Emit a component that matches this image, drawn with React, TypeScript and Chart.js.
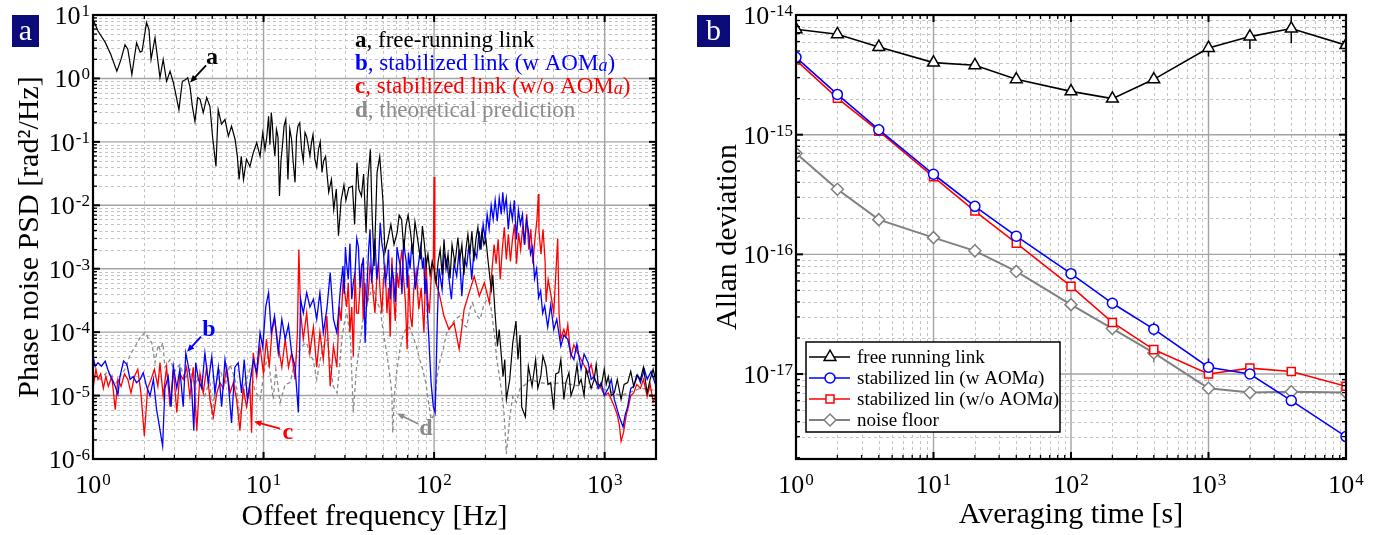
import React, { useEffect, useRef } from 'react';
import { Chart, registerables } from 'chart.js';

Chart.register(...registerables);

const SERIF = '"Liberation Serif", "Times New Roman", Times, serif';

// ---------------- Panel a: phase-noise PSD  [offset frequency Hz, PSD rad^2/Hz] ----------------
const psdFreeRunning: [number, number][] = [
  [1.00,8.5],[1.07,5.6],[1.18,3.7],[1.27,2.4],[1.38,1.3],[1.46,2.0],[1.54,3.4],[1.60,2.9],[1.69,1.15],[1.80,3.65],
  [1.89,2.6],[1.94,2.7],[2.06,7.6],[2.13,5.9],[2.19,2.0],[2.31,4.4],[2.47,1.03],[2.58,2.0],[2.70,0.9],[2.83,1.3],
  [2.96,0.86],[3.06,0.56],[3.19,0.32],[3.34,0.9],[3.50,0.96],[3.59,1.03],[3.71,0.72],[3.82,0.37],[3.96,0.21],[4.11,0.5],
  [4.24,0.47],[4.43,0.29],[4.64,0.5],[4.85,0.36],[5.03,0.117],[5.26,0.041],[5.42,0.32],[5.67,0.19],[5.94,0.225],[6.22,0.123],
  [6.49,0.177],[6.81,0.109],[7.02,0.059],[7.19,0.0255],[7.40,0.059],[7.63,0.0255],[7.94,0.053],[8.32,0.041],[8.70,0.067],[9.12,0.097],
  [9.54,0.059],[9.89,0.139],[10.2,0.076],[10.45,0.12],[10.7,0.254],[10.9,0.09],[11.1,0.29],[11.25,0.2],[11.4,0.109],[11.65,0.06],
  [11.9,0.157],[12.15,0.12],[12.4,0.014],[12.65,0.05],[12.9,0.086],[13.2,0.18],[13.5,0.225],[13.7,0.08],[13.9,0.0255],[14.25,0.16],
  [14.6,0.109],[14.9,0.05],[15.3,0.023],[15.6,0.12],[15.9,0.177],[16.3,0.2],[16.7,0.076],[17.1,0.05],[17.5,0.14],[17.9,0.12],
  [18.3,0.086],[18.7,0.06],[19.1,0.097],[19.5,0.13],[20.0,0.053],[20.5,0.04],[21.0,0.076],[21.5,0.1],[22.0,0.033],[22.5,0.05],
  [23.1,0.059],[23.6,0.03],[24.1,0.016],[25.0,0.0255],[25.8,0.0086],[26.7,0.018],[27.5,0.0033],[28.5,0.012],[29.6,0.021],[30.4,0.012],
  [31.6,0.019],[33.2,0.02],[34.2,0.005],[35.3,0.047],[36.2,0.018],[37.5,0.014],[38.6,0.031],[39.9,0.0037],[40.9,0.0255],[42.3,0.076],
  [43.2,0.0086],[44.5,0.0011],[46.3,0.033],[48.0,0.059],[50.1,0.012],[51.5,0.0018],[53.6,0.0029],[55.8,0.005],[58.2,0.0024],[60.7,0.0037],
  [62.4,0.007],[64.5,0.006],[66.4,0.002],[68.3,0.0047],[70.4,0.007],[72.8,0.0037],[75.0,0.0017],[77.2,0.0055],[80.1,0.0029],[83.1,0.0014],
  [85.4,0.0047],[87.8,0.0024],[89.9,0.0011],[92.0,0.0017],[94.8,8e-4],[97.4,1.3e-3],[99.9,1e-3],[102.8,6e-4],[105.6,1.3e-3],[108.5,2e-3],
  [111.5,8e-4],[114.3,2.9e-3],[117.5,1e-3],[120.7,1.7e-3],[124.0,7e-4],[127.4,2.4e-3],[132.6,1.2e-3],[137.9,3.1e-3],[141.6,1.4e-3],[145.5,2.4e-3],
  [149.5,8e-4],[153.6,2e-3],[157.8,3.5e-3],[162.1,1.7e-3],[166.6,3.9e-3],[171.1,1.3e-3],[175.8,2.9e-3],[180.6,4.5e-3],[185.6,2e-3],[190.7,3.9e-3],
  [195.9,2.4e-3],[201.3,2.9e-3],[206.8,1.4e-3],[212.5,7e-4],[217.1,4.7e-4],[220.8,8e-4],[226.9,2.3e-4],[235.2,6e-5],[240.8,1.1e-4],[253.6,2e-5],
  [259.6,3.7e-5],[265.3,8.7e-6],[277.7,1.8e-5],[289.2,6.8e-5],[302.0,1.5e-4],[310.3,3.7e-5],[319.0,9e-5],[326.3,6.6e-6],[342.8,4.6e-6],[356.9,2.9e-5],
  [375.3,1.4e-5],[393.8,3.7e-5],[405.6,1.3e-5],[422.1,2e-5],[434.5,4.2e-5],[452.6,2.9e-5],[465.2,1.5e-5],[482.4,1.6e-5],[502.4,6e-6],[516.4,2.2e-5],
  [537.8,2.3e-5],[553.4,3.7e-5],[576.4,8.7e-6],[592.6,1.6e-5],[617.4,2.3e-5],[634.8,1e-5],[661.2,1.4e-5],[688.6,3.1e-5],[707.7,1.5e-5],[727.4,1.8e-5],
  [757.5,1e-5],[778.5,2.6e-5],[800.2,2e-5],[833.3,1.3e-5],[867.8,1.8e-5],[892.0,3.1e-5],[916.8,1.5e-5],[954.8,1.4e-5],[994.3,2.6e-5],[1022,1.5e-5],
  [1050,2e-5],[1094,1e-5],[1139,1.1e-5],[1186,1.8e-5],[1248,8.7e-6],[1300,1.5e-5],[1365,1.6e-5],[1422,2.4e-5],[1480,1.4e-5],[1541,2.1e-5],
  [1621,1.8e-5],[1688,2.8e-5],[1775,1.1e-5],[1848,1.8e-5],[1924,2.6e-5],[2003,1.6e-5],
];

const psdStabilizedWithAom: [number, number][] = [
  [1.00,4.2e-5],[1.03,2.9e-5],[1.07,3.3e-5],[1.12,2.9e-5],[1.18,3.5e-5],[1.22,2.6e-5],[1.29,1.8e-5],[1.35,1.4e-5],[1.40,1.04e-5],[1.44,2.0e-5],
  [1.51,3.5e-5],[1.58,3.1e-5],[1.65,1.8e-5],[1.72,2.0e-5],[1.80,1.6e-5],[1.89,1.8e-5],[1.97,2.3e-5],[2.06,1.4e-5],[2.16,9.9e-6],[2.26,1.8e-5],
  [2.36,6.0e-6],[2.45,3.3e-6],[2.56,1.6e-6],[2.64,1.3e-5],[2.76,2.0e-5],[2.87,6.7e-6],[2.96,2.9e-5],[3.10,1.3e-5],[3.23,2.6e-5],[3.38,6.7e-6],
  [3.50,4.7e-5],[3.65,2.6e-5],[3.79,1.3e-5],[3.90,2.8e-6],[4.00,3.3e-5],[4.15,1.8e-5],[4.34,1.3e-5],[4.53,4.7e-5],[4.74,1.6e-5],[4.97,4.1e-5],
  [5.19,1.1e-5],[5.43,2.8e-5],[5.68,6.7e-6],[5.94,3.7e-5],[6.21,1.6e-5],[6.49,3.7e-6],[6.79,2.8e-5],[7.10,3.3e-5],[7.43,1.1e-5],[7.70,3.7e-5],
  [8.04,8.7e-6],[8.33,1.6e-5],[8.71,3.7e-5],[9.11,2.3e-5],[9.54,9.8e-5],[9.89,5.8e-5],[10.3,2.5e-4],[10.7,4.2e-4],[11.1,9.8e-5],[11.6,1.8e-4],
  [12.2,4.7e-5],[12.8,1.6e-4],[13.4,7.7e-5],[14.0,1.3e-4],[14.6,4.7e-5],[15.3,2.8e-5],[16.0,5.4e-6],[16.5,3.3e-4],[17.1,2.0e-4],[17.9,4.2e-4],
  [18.7,2.5e-4],[19.6,3.3e-4],[20.5,1.6e-4],[21.4,4.2e-4],[22.4,9.8e-5],[23.5,2.3e-4],[24.6,8.7e-4],[25.7,1.6e-4],[26.9,9.8e-5],[28.2,4.7e-4],
  [29.2,1.1e-3],[29.7,4e-4],[30.2,2.2e-3],[30.7,1.2e-3],[31.4,6.8e-4],[32.1,2.5e-3],[32.9,3.3e-4],[33.6,6e-4],[34.4,8.7e-4],[35.2,3e-3],
  [36.0,2.2e-3],[36.8,5e-4],[37.7,1.1e-3],[38.5,1.5e-3],[39.4,6.8e-5],[40.6,6.8e-4],[41.3,2e-3],[42.1,4.2e-3],[43.0,6e-4],[44.0,1.3e-3],
  [45.0,3e-3],[46.1,6.8e-4],[47.2,1.2e-3],[48.3,5.3e-3],[49.4,2.5e-3],[50.5,1.8e-3],[51.7,6e-4],[52.9,8.7e-4],[54.0,2e-3],[55.3,3.3e-4],
  [56.6,1e-3],[57.9,6.8e-4],[59.2,3e-4],[60.6,2.2e-3],[62.0,1.5e-3],[63.4,1.1e-3],[64.8,4e-4],[66.3,2.9e-3],[67.4,1.8e-3],[68.6,1.3e-3],
  [69.6,5e-4],[70.7,1.8e-3],[72.3,1.0e-3],[74.0,2.5e-3],[75.4,1.7e-3],[77.6,4.7e-4],[79.5,8e-4],[81.6,1.4e-3],[83.5,2.2e-3],[85.6,1.0e-3],
  [87.0,1.5e-3],[88.3,4.0e-4],[90.0,7e-4],[91.7,1.8e-4],[96.0,1.6e-5],
  [98.9,6.7e-6],[101.4,5.4e-6],[104.6,1.8e-4],[106.9,1.0e-3],[111.4,4.7e-4],[114.5,1.7e-3],[118.6,1.3e-3],[122.4,6.8e-4],[126.3,3.3e-4],[130.8,1.2e-3],
  [135.7,7.6e-4],[140.2,2.0e-3],[145.4,3.7e-4],[150.4,1.4e-3],[155.3,1.1e-3],[160.0,2.4e-3],[166.2,6.8e-4],[171.4,2.0e-3],[177.7,1.5e-3],[183.6,3.9e-3],
  [188.5,2.0e-3],[193.9,5.0e-3],[199.2,2.9e-3],[204.6,7.2e-3],[210.2,4.2e-3],[216.1,1.0e-2],[222.0,6.0e-3],[228.1,1.2e-2],[234.5,5.6e-3],[240.9,1.3e-2],
  [247.6,7.2e-3],[252.7,1.6e-2],[257.9,8.4e-3],[265.0,1.3e-2],[272.3,4.2e-3],[279.9,1.0e-2],[287.6,6.0e-3],[295.5,1.2e-2],[303.7,2.9e-3],[312.1,8.4e-3],
  [320.7,5.0e-3],[329.6,7.2e-3],[338.7,2.4e-3],[348.1,6.0e-3],[357.7,3.9e-3],[367.6,1.7e-3],[377.8,2.2e-3],[388.2,7.0e-4],[399.0,1.0e-3],[410.0,3.5e-4],
  [421.3,4.5e-4],[433.0,2.0e-4],[445.0,2.6e-4],[463.5,1.2e-4],[482.8,2.7e-4],[502.8,1.1e-4],[523.8,1.6e-4],[553.3,6.0e-5],[576.4,9.0e-5],[608.1,7.7e-5],
  [633.4,4.5e-5],[659.7,3.7e-5],[687.2,6.5e-5],[727.4,2.6e-5],[757.6,4.5e-5],[800.2,3.3e-5],[833.3,1.8e-5],[867.8,2.0e-5],[916.8,1.3e-5],[954.8,1.6e-5],
  [994.3,1.0e-5],[1050,1.3e-5],[1094,1.8e-5],[1139,8.7e-6],[1186,6.0e-6],[1220,4.6e-6],[1282,3.2e-6],[1320,5.0e-6],[1365,6.7e-6],[1422,1.3e-5],
  [1480,1.4e-5],[1561,2.1e-5],[1621,1.6e-5],[1709,2.6e-5],[1775,1.8e-5],[1872,2.4e-5],[2003,1.4e-5],
];

const psdStabilizedWithoutAom: [number, number][] = [
  [1.00,1.3e-5],[1.04,2.6e-5],[1.07,1.8e-5],[1.11,2.2e-5],[1.15,1.3e-5],[1.19,2.0e-5],[1.23,1.4e-5],[1.29,2.0e-5],[1.35,6.0e-6],[1.40,1.8e-5],
  [1.46,1.4e-5],[1.53,2.2e-5],[1.60,1.8e-5],[1.67,1.1e-5],[1.75,2.0e-5],[1.83,2.6e-5],[1.91,1.1e-5],[2.00,2.3e-6],[2.09,1.3e-5],[2.19,1.8e-5],
  [2.29,2.6e-5],[2.40,1.4e-5],[2.47,3.3e-5],[2.58,9.7e-6],[2.70,2.8e-5],[2.83,6.7e-6],[2.96,2.6e-5],[3.10,5.4e-6],[3.23,2.2e-5],[3.38,1.8e-5],
  [3.54,2.8e-5],[3.70,9.7e-6],[3.87,2.8e-5],[4.06,2.8e-6],[4.24,2.2e-5],[4.43,1.1e-5],[4.64,2.8e-5],[4.85,8.7e-6],[5.08,4.6e-6],[5.32,1.1e-5],
  [5.55,1.6e-5],[5.81,1.3e-5],[6.08,2.8e-5],[6.36,1.1e-5],[6.65,1.6e-5],[6.95,8.7e-6],[7.27,2.8e-6],[7.60,1.3e-5],[7.95,6.7e-6],[8.32,1.4e-5],
  [8.51,2.6e-6],[8.70,4.7e-5],[9.11,2.0e-5],[9.54,6.0e-5],[9.97,2.3e-5],[10.4,7.8e-5],[10.8,2.8e-5],[11.2,1.0e-4],[11.6,1.6e-4],[12.2,6.0e-5],
  [12.8,2.8e-5],[13.4,7.8e-5],[14.0,2.8e-5],[14.6,4.7e-5],[15.3,1.8e-5],[15.8,1.0e-4],[16.1,2.0e-3],[16.5,2.0e-4],[17.1,7.8e-5],[17.9,2.0e-4],
  [18.7,4.7e-5],[19.6,1.2e-4],[20.5,2.8e-5],[21.4,1.0e-4],[22.4,3.7e-5],[23.5,1.8e-4],[24.6,1.4e-5],[25.7,6.0e-5],[26.9,2.8e-5],[27.8,2.5e-4],
  [28.5,1.5e-4],[29.3,6.8e-4],[30.0,4e-4],[30.7,2.5e-4],[31.4,6e-4],[32.1,1.0e-4],[32.9,2.5e-4],[33.6,4.1e-5],[34.4,9e-4],[35.1,2.0e-4],
  [36.0,2e-4],[36.8,5.3e-4],[37.6,1.2e-3],[38.4,1.6e-4],[39.3,6e-4],[40.2,2.5e-4],[41.1,4e-4],[42.1,1.1e-3],[43.0,8e-4],[44.0,3.7e-4],
  [45.0,2e-4],[46.1,6.8e-4],[47.2,1.3e-3],[48.3,4.2e-4],[49.4,2e-4],[50.5,6.8e-4],[51.7,1e-3],[52.9,2.0e-4],[54.1,5e-4],[55.3,8.5e-5],
  [56.6,1.5e-3],[57.9,3.7e-4],[59.2,1.5e-4],[60.6,8.7e-4],[62.0,5e-4],[63.4,1.25e-3],[64.8,2e-3],[66.3,6.8e-4],[67.9,3e-4],[69.5,5.4e-5],
  [71.0,8e-4],[72.6,1.8e-4],[74.3,1.2e-4],[76.0,4.7e-4],[78.5,9e-4],[81.3,2.3e-4],[84.0,5e-4],[87.2,9.8e-5],[89.5,1.5e-3],[91.7,3.3e-4],
  [93.8,2e-4],[96.0,6.8e-4],[99.0,1.55e-3],[100.0,2.8e-2],[101.0,6.8e-4],[106.9,4.2e-4],
  [114.2,1.8e-4],[122.2,1.1e-4],[130.9,1.4e-4],[140.2,5.4e-5],[150.0,2.3e-4],[160.6,4.2e-4],[171.9,7.6e-4],[184.1,3.7e-4],[197.1,6.0e-4],[211.0,2.9e-4],
  [218.8,1.0e-3],[224.8,2.4e-3],[231.0,1.2e-3],[237.5,2.9e-3],[244.2,6.8e-4],[251.0,2.0e-3],[258.0,4.5e-3],[265.2,1.4e-3],[272.6,3.5e-3],[280.2,1.3e-3],
  [288.0,2.9e-3],[296.1,5.0e-3],[304.3,1.2e-3],[312.8,3.7e-3],[321.6,2.0e-3],[330.5,4.5e-3],[339.8,2.4e-3],[349.2,7.2e-3],[359.0,2.0e-3],[369.0,4.2e-3],
  [379.3,1.2e-3],[389.9,2.9e-3],[400.8,6.0e-3],[409.0,1.5e-2],[412.0,3.9e-3],[423.5,1.7e-3],[435.3,4.2e-3],[447.5,1.3e-3],[453.6,3.0e-4],[466.4,6.8e-4],
  [485.3,3.7e-4],[502.8,2.0e-4],[530.6,3.0e-3],[540.0,2.0e-4],[553.3,7.8e-5],[576.4,1.1e-4],[592.6,8.5e-5],[608.1,1.3e-4],[633.4,4.1e-5],[659.7,6.3e-5],
  [694.6,4.7e-5],[727.4,3.7e-5],[767.9,2.8e-5],[800.2,2.3e-5],[833.3,3.1e-5],[867.8,1.8e-5],[916.8,1.5e-5],[954.8,1.3e-5],[1000,1.0e-5],[1050,1.1e-5],
  [1094,8.7e-6],[1139,6.7e-6],[1186,5.0e-6],[1220,3.4e-6],[1248,1.9e-6],[1290,2.6e-6],[1340,5.0e-6],[1365,6.0e-6],[1422,1.0e-5],[1480,1.1e-5],
  [1541,1.5e-5],[1621,1.3e-5],[1688,1.8e-5],[1775,9.7e-6],[1848,1.5e-5],[1924,8.0e-6],[2003,1.0e-5],
];

const psdTheoretical: [number, number][] = [
  [1.00,2.1e-5],[1.10,1.8e-5],[1.22,2.4e-5],[1.35,1.5e-5],[1.44,2.0e-5],[1.54,2.6e-5],[1.65,4.4e-5],[1.76,5.8e-5],[1.89,8.2e-5],[2.02,1.0e-4],
  [2.10,8.2e-5],[2.21,6.8e-5],[2.31,3.3e-5],[2.41,6.3e-5],[2.47,5.3e-5],[2.57,6.8e-5],[2.64,2.8e-5],[2.83,3.7e-5],[3.02,2.4e-5],[3.23,3.1e-5],
  [3.46,1.8e-5],[3.70,2.6e-5],[3.96,1.5e-5],[4.24,2.1e-5],[4.53,1.0e-5],[4.85,1.8e-5],[4.99,4.2e-6],[5.19,1.3e-5],[5.55,2.6e-5],[5.94,1.5e-5],
  [6.36,3.1e-5],[6.81,1.8e-5],[7.27,4.6e-6],[7.78,1.5e-5],[8.32,2.6e-5],[8.91,1.2e-5],[9.54,8.7e-6],[10.1,2.4e-5],[10.6,4.4e-5],[11.4,8.7e-6],
  [11.8,2.6e-5],[12.5,7.8e-6],[13.4,1.5e-5],[14.3,1.6e-5],[14.9,2.6e-5],[15.7,4.4e-5],[16.3,5.3e-5],[17.1,6.3e-5],[17.9,6.8e-5],[18.6,4.4e-5],
  [19.5,3.7e-5],[20.5,1.8e-5],[21.4,3.5e-5],[22.3,5.8e-5],[23.7,7.8e-5],[24.6,3.1e-5],[25.6,1.4e-5],[27.0,1.1e-5],[28.1,3.7e-5],[28.9,8.5e-5],
  [30.0,1.6e-4],[30.8,2.0e-4],[32.3,7.8e-5],[33.6,5.4e-6],[35.0,2.6e-5],[36.8,6.8e-5],[38.3,1.6e-4],[40.6,2.9e-4],[42.1,3.9e-4],[43.8,5.3e-4],
  [45.6,3.3e-4],[48.3,2.3e-4],[50.1,1.1e-4],[52.7,4.7e-5],[55.0,2.1e-5],[56.5,1.1e-5],[57.2,2.6e-6],[58.5,1.0e-5],[60.3,2.3e-5],[63.0,5.3e-5],
  [65.4,8.5e-5],[68.0,1.1e-4],[71.6,1.2e-4],[74.5,9.3e-5],[78.7,6.0e-5],[82.3,3.7e-5],[85.7,2.6e-5],[89.8,1.5e-5],[92.2,8.7e-6],[96.0,4.2e-6],
  [100,5.0e-6],[104,2.0e-5],[108.5,3.7e-5],[113,5.3e-5],[118,9.3e-5],[124,1.2e-4],[133,1.6e-4],[141.6,1.8e-4],[149.5,1.3e-4],[155,1.2e-4],
  [162,2.3e-4],[168,2.9e-4],[176,1.9e-4],[186,1.6e-4],[196,2.7e-4],[204,3.3e-4],[213,2.9e-4],[218,2.0e-4],[227,7.8e-5],[233,3.7e-5],
  [243,1.8e-5],[249,1.1e-5],[256,6.0e-6],[260,3.2e-6],[265,1.2e-6],[270,2.0e-6],[278,4.6e-6],[289,9.7e-6],[304,7.8e-6],[319,1.3e-5],
  [343,1.5e-5],[366,1.8e-5],[418,1.6e-5],[480,1.5e-5],[553,1.6e-5],[727,1.4e-5],[955,1.3e-5],[1248,1.0e-5],[1621,1.3e-5],[2003,1.2e-5],
];

const panelAFreqRange: [number, number] = [1, 2000];
const panelAPsdRange: [number, number] = [1e-6, 10];

// Curve labels (a, b, c, d) with their arrows, placed in data coordinates [f, psd]
const curveTags = [
  { tag: 'a', color: '#000000', text: [4.99, 2.14], from: [4.6, 1.6], to: [3.71, 0.865] },
  { tag: 'b', color: '#0000ff', text: [4.79, 1.1e-4], from: [4.3, 8.5e-5], to: [3.56, 4.9e-5] },
  { tag: 'c', color: '#ff0000', text: [13.9, 2.6e-6], from: [12.5, 3.0e-6], to: [8.79, 3.9e-6] },
  { tag: 'd', color: '#8a8a8a', text: [89.6, 3.0e-6], from: [80.5, 3.6e-6], to: [60.6, 5.2e-6] },
];

// ---------------- Panel b: Allan deviation ----------------
const averagingTime = [1, 2, 4, 10, 20, 40, 100, 200, 400, 1000, 2000, 4000, 10000];
const adevFreeRunning = [7.6e-15, 6.9e-15, 5.4e-15, 4.0e-15, 3.8e-15, 2.9e-15, 2.3e-15, 2.0e-15, 2.9e-15, 5.3e-15, 6.6e-15, 7.7e-15, 5.6e-15];
const adevStabWithAom = [4.43e-15, 2.17e-15, 1.10e-15, 4.67e-16, 2.52e-16, 1.42e-16, 6.9e-17, 3.9e-17, 2.37e-17, 1.14e-17, 1.0e-17, 6.0e-18, 3.0e-18];
const adevStabWithoutAom = [4.2e-15, 2.02e-15, 1.07e-15, 4.45e-16, 2.3e-16, 1.24e-16, 5.4e-17, 2.7e-17, 1.6e-17, 1.0e-17, 1.12e-17, 1.05e-17, 7.9e-18];
const adevNoiseFloor = [7.0e-16, 3.5e-16, 1.95e-16, 1.38e-16, 1.07e-16, 7.2e-17, 3.8e-17, 2.4e-17, 1.5e-17, 7.6e-18, 7.0e-18, 7.1e-18, 7.0e-18];
// error bars [upper, lower], null = none
const errFreeRunning: ([number, number] | null)[] = [null, null, null, null, null, null, null, null, null, [6.0e-15, 4.5e-15], [7.3e-15, 5.2e-15], [9.4e-15, 5.8e-15], null];
const errStabWithAom: ([number, number] | null)[] = [null, null, null, null, null, null, null, null, [2.7e-17, 2.1e-17], [1.35e-17, 9.6e-18], null, null, null];
const errNoiseFloor: ([number, number] | null)[] = [null, null, null, null, null, null, null, null, [1.73e-17, 1.25e-17], null, null, null, null];

const panelBTauRange: [number, number] = [1, 1e4];
const panelBAdevRange: [number, number] = [1.95e-18, 1e-14];

const legendB = [
  { label: 'free running link', color: '#000000', marker: 'triangle', italicA: false },
  { label: 'stabilized lin (w AOM', color: '#0000ff', marker: 'circle', italicA: true },
  { label: 'stabilized lin (w/o AOM', color: '#ff0000', marker: 'rect', italicA: true },
  { label: 'noise floor', color: '#808080', marker: 'diamond', italicA: false },
];

// ---------------- helpers ----------------
function decadeExps(min: number, max: number): number[] {
  const out: number[] = [];
  const d0 = Math.floor(Math.log10(min) + 1e-9) - 1;
  const d1 = Math.ceil(Math.log10(max) - 1e-9) + 1;
  for (let d = d0; d <= d1; d++) out.push(d);
  return out;
}
function majors(min: number, max: number): number[] {
  return decadeExps(min, max).filter((d) => {
    const v = Math.pow(10, d);
    return v >= min * 0.999 && v <= max * 1.001;
  });
}
function minors(min: number, max: number): number[] {
  const out: number[] = [];
  for (const d of decadeExps(min, max)) {
    for (let m = 2; m <= 9; m++) {
      const v = m * Math.pow(10, d);
      if (v > min * 1.001 && v < max * 0.999) out.push(v);
    }
  }
  return out;
}

function line(ctx: CanvasRenderingContext2D, x1: number, y1: number, x2: number, y2: number) {
  ctx.beginPath();
  ctx.moveTo(x1, y1);
  ctx.lineTo(x2, y2);
  ctx.stroke();
}

function drawGrid(chart: any) {
  const ctx: CanvasRenderingContext2D = chart.ctx;
  const { left, right, top, bottom } = chart.chartArea;
  const xs = chart.scales.x;
  const ys = chart.scales.y;
  const [xmin, xmax] = [xs.options.min, xs.options.max];
  const [ymin, ymax] = [ys.options.min, ys.options.max];
  ctx.save();
  ctx.lineWidth = 1;
  ctx.strokeStyle = '#c4c4c4';
  ctx.setLineDash([3, 3]);
  for (const v of minors(xmin, xmax)) {
    const p = Math.round(xs.getPixelForValue(v)) + 0.5;
    line(ctx, p, top, p, bottom);
  }
  for (const v of minors(ymin, ymax)) {
    const p = Math.round(ys.getPixelForValue(v)) + 0.5;
    line(ctx, left, p, right, p);
  }
  ctx.setLineDash([]);
  ctx.strokeStyle = '#a3a3a3';
  ctx.lineWidth = 1.4;
  for (const d of majors(xmin, xmax)) {
    const p = xs.getPixelForValue(Math.pow(10, d));
    line(ctx, p, top, p, bottom);
  }
  for (const d of majors(ymin, ymax)) {
    const p = ys.getPixelForValue(Math.pow(10, d));
    line(ctx, left, p, right, p);
  }
  ctx.restore();
}

function drawPow(ctx: CanvasRenderingContext2D, exp: number, x: number, baseline: number, align: 'right' | 'center') {
  const ex = String(exp);
  ctx.font = `26px ${SERIF}`;
  const wb = ctx.measureText('10').width;
  ctx.font = `17px ${SERIF}`;
  const we = ctx.measureText(ex).width;
  const total = wb + we + 1;
  const x0 = align === 'right' ? x - total : x - total / 2;
  ctx.textAlign = 'left';
  ctx.textBaseline = 'alphabetic';
  ctx.fillStyle = '#000';
  ctx.font = `26px ${SERIF}`;
  ctx.fillText('10', x0, baseline);
  ctx.font = `17px ${SERIF}`;
  ctx.fillText(ex, x0 + wb + 1, baseline - 8);
}

function drawFrameTicksLabels(chart: any) {
  const ctx: CanvasRenderingContext2D = chart.ctx;
  const { left, right, top, bottom } = chart.chartArea;
  const xs = chart.scales.x;
  const ys = chart.scales.y;
  const [xmin, xmax] = [xs.options.min, xs.options.max];
  const [ymin, ymax] = [ys.options.min, ys.options.max];
  ctx.save();
  ctx.strokeStyle = '#000';
  ctx.lineWidth = 1.3;
  const minorL = 4;
  const majorL = 7;
  for (const v of minors(xmin, xmax)) {
    const p = xs.getPixelForValue(v);
    line(ctx, p, bottom, p, bottom - minorL);
    line(ctx, p, top, p, top + minorL);
  }
  for (const v of minors(ymin, ymax)) {
    const p = ys.getPixelForValue(v);
    line(ctx, left, p, left + minorL, p);
    line(ctx, right, p, right - minorL, p);
  }
  ctx.lineWidth = 2;
  for (const d of majors(xmin, xmax)) {
    const p = xs.getPixelForValue(Math.pow(10, d));
    line(ctx, p, bottom, p, bottom - majorL);
    line(ctx, p, top, p, top + majorL);
  }
  for (const d of majors(ymin, ymax)) {
    const p = ys.getPixelForValue(Math.pow(10, d));
    line(ctx, left, p, left + majorL, p);
    line(ctx, right, p, right - majorL, p);
  }
  ctx.lineWidth = 2.2;
  ctx.strokeRect(left, top, right - left, bottom - top);
  for (const d of majors(xmin, xmax)) {
    drawPow(ctx, d, xs.getPixelForValue(Math.pow(10, d)), bottom + 34, 'center');
  }
  for (const d of majors(ymin, ymax)) {
    drawPow(ctx, d, left - 3, ys.getPixelForValue(Math.pow(10, d)) + 9, 'right');
  }
  ctx.restore();
}

function drawTitles(chart: any, xTitle: string, yTitle: string, yTitleX: number, xBaseline: number) {
  const ctx: CanvasRenderingContext2D = chart.ctx;
  const { left, right, top, bottom } = chart.chartArea;
  ctx.save();
  ctx.fillStyle = '#000';
  ctx.font = `30px ${SERIF}`;
  ctx.textAlign = 'center';
  ctx.textBaseline = 'alphabetic';
  ctx.fillText(xTitle, (left + right) / 2, xBaseline);
  ctx.translate(yTitleX, (top + bottom) / 2);
  ctx.rotate(-Math.PI / 2);
  ctx.textBaseline = 'middle';
  ctx.fillText(yTitle, 0, 0);
  ctx.restore();
}

function drawPanelTag(ctx: CanvasRenderingContext2D, tag: string, x: number, y: number, w: number, h: number) {
  ctx.save();
  ctx.fillStyle = '#0b0b7a';
  ctx.fillRect(x, y, w, h);
  ctx.fillStyle = '#ffffff';
  ctx.font = `30px ${SERIF}`;
  ctx.textAlign = 'center';
  ctx.textBaseline = 'middle';
  ctx.fillText(tag, x + w / 2, y + h / 2 + 1);
  ctx.restore();
}

function drawArrow(ctx: CanvasRenderingContext2D, x1: number, y1: number, x2: number, y2: number, color: string) {
  const ang = Math.atan2(y2 - y1, x2 - x1);
  const L = 8;
  ctx.save();
  ctx.strokeStyle = color;
  ctx.fillStyle = color;
  ctx.lineWidth = 1.8;
  line(ctx, x1, y1, x2 - Math.cos(ang) * 5, y2 - Math.sin(ang) * 5);
  ctx.beginPath();
  ctx.moveTo(x2, y2);
  ctx.lineTo(x2 - L * Math.cos(ang - 0.4), y2 - L * Math.sin(ang - 0.4));
  ctx.lineTo(x2 - L * Math.cos(ang + 0.4), y2 - L * Math.sin(ang + 0.4));
  ctx.closePath();
  ctx.fill();
  ctx.restore();
}

function richText(ctx: CanvasRenderingContext2D, x: number, y: number, parts: { t: string; font: string; color: string; dy?: number }[]) {
  let cx = x;
  ctx.textAlign = 'left';
  ctx.textBaseline = 'alphabetic';
  for (const p of parts) {
    ctx.font = p.font;
    ctx.fillStyle = p.color;
    ctx.fillText(p.t, cx, y + (p.dy || 0));
    cx += ctx.measureText(p.t).width;
  }
}

function drawMarker(ctx: CanvasRenderingContext2D, kind: string, x: number, y: number, color: string) {
  ctx.save();
  ctx.strokeStyle = color;
  ctx.fillStyle = '#ffffff';
  ctx.lineWidth = 1.5;
  ctx.beginPath();
  if (kind === 'triangle') {
    const r = 6.8;
    for (let i = 0; i < 3; i++) {
      const a = (i * 2 * Math.PI) / 3;
      const px = x + Math.sin(a) * r;
      const py = y - Math.cos(a) * r;
      if (i === 0) ctx.moveTo(px, py);
      else ctx.lineTo(px, py);
    }
    ctx.closePath();
  } else if (kind === 'circle') {
    ctx.arc(x, y, 5, 0, Math.PI * 2);
  } else if (kind === 'rect') {
    const s = 5.7 * Math.SQRT1_2;
    ctx.rect(x - s, y - s, 2 * s, 2 * s);
  } else {
    const r = 6;
    ctx.moveTo(x, y - r);
    ctx.lineTo(x + r, y);
    ctx.lineTo(x, y + r);
    ctx.lineTo(x - r, y);
    ctx.closePath();
  }
  ctx.fill();
  ctx.stroke();
  ctx.restore();
}

// ---------------- plugins ----------------
const panelAPlugin = {
  id: 'panelADecor',
  beforeDatasetsDraw(chart: any) {
    drawGrid(chart);
  },
  afterDatasetsDraw(chart: any) {
    const ctx: CanvasRenderingContext2D = chart.ctx;
    const { left, top } = chart.chartArea;
    const xs = chart.scales.x;
    const ys = chart.scales.y;
    drawFrameTicksLabels(chart);
    drawTitles(chart, 'Offeet frequency [Hz]', 'Phase noise PSD [rad\u00B2/Hz]', 30, 525);
    drawPanelTag(ctx, 'a', 12, 15, 27, 32);
    ctx.save();
    for (const c of curveTags) {
      const tx = xs.getPixelForValue(c.text[0]);
      const ty = ys.getPixelForValue(c.text[1]);
      ctx.font = `bold 24px ${SERIF}`;
      ctx.fillStyle = c.color;
      ctx.textAlign = 'center';
      ctx.textBaseline = 'middle';
      ctx.fillText(c.tag, tx, ty);
      drawArrow(ctx, xs.getPixelForValue(c.from[0]), ys.getPixelForValue(c.from[1]), xs.getPixelForValue(c.to[0]), ys.getPixelForValue(c.to[1]), c.color);
    }
    ctx.restore();
    const lx = left + 262;
    const ly = top + 31.5;
    const dy = 23.4;
    const reg = `23px ${SERIF}`;
    const bold = `bold 23px ${SERIF}`;
    const ital = `italic 18px ${SERIF}`;
    ctx.save();
    richText(ctx, lx, ly, [
      { t: 'a', font: bold, color: '#000' },
      { t: ', free-running link', font: reg, color: '#000' },
    ]);
    richText(ctx, lx, ly + dy, [
      { t: 'b', font: bold, color: '#0000ff' },
      { t: ', stabilized link (w AOM', font: reg, color: '#0000ff' },
      { t: 'a', font: ital, color: '#0000ff', dy: 1 },
      { t: ')', font: reg, color: '#0000ff' },
    ]);
    richText(ctx, lx, ly + 2 * dy, [
      { t: 'c', font: bold, color: '#ff0000' },
      { t: ', stabilized link (w/o AOM', font: reg, color: '#ff0000' },
      { t: 'a', font: ital, color: '#ff0000', dy: 1 },
      { t: ')', font: reg, color: '#ff0000' },
    ]);
    richText(ctx, lx, ly + 3 * dy, [
      { t: 'd', font: bold, color: '#8c8c8c' },
      { t: ', theoretical prediction', font: reg, color: '#8c8c8c' },
    ]);
    ctx.restore();
  },
};

const panelBPlugin = {
  id: 'panelBDecor',
  beforeDatasetsDraw(chart: any) {
    drawGrid(chart);
    const ctx: CanvasRenderingContext2D = chart.ctx;
    const xs = chart.scales.x;
    const ys = chart.scales.y;
    const sets: [([number, number] | null)[], string][] = [
      [errFreeRunning, '#000000'],
      [errStabWithAom, '#0000ff'],
      [errNoiseFloor, '#808080'],
    ];
    ctx.save();
    ctx.lineWidth = 1.5;
    for (const [errs, color] of sets) {
      ctx.strokeStyle = color;
      errs.forEach((e, i) => {
        if (!e) return;
        const px = xs.getPixelForValue(averagingTime[i]);
        line(ctx, px, ys.getPixelForValue(e[0]), px, ys.getPixelForValue(e[1]));
      });
    }
    ctx.restore();
  },
  afterDatasetsDraw(chart: any) {
    const ctx: CanvasRenderingContext2D = chart.ctx;
    const { left, bottom } = chart.chartArea;
    drawFrameTicksLabels(chart);
    drawTitles(chart, 'Averaging time [s]', 'Allan deviation', 38, 523);
    drawPanelTag(ctx, 'b', 7, 15, 33, 32);
    const bx = left + 10;
    const bw = 254;
    const bh = 90;
    const by = bottom - 27 - bh;
    ctx.save();
    ctx.fillStyle = '#ffffff';
    ctx.fillRect(bx, by, bw, bh);
    ctx.strokeStyle = '#000';
    ctx.lineWidth = 1.5;
    ctx.strokeRect(bx, by, bw, bh);
    legendB.forEach((item, i) => {
      const cy = by + 15 + i * 21;
      ctx.strokeStyle = item.color;
      ctx.lineWidth = item.marker === 'diamond' ? 2 : 1.6;
      line(ctx, bx + 3, cy, bx + 44, cy);
      drawMarker(ctx, item.marker, bx + 24, cy, item.color);
      const parts: { t: string; font: string; color: string; dy?: number }[] = [
        { t: item.label, font: `19px ${SERIF}`, color: '#000' },
      ];
      if (item.italicA) {
        parts.push({ t: 'a', font: `italic 19px ${SERIF}`, color: '#000' });
        parts.push({ t: ')', font: `19px ${SERIF}`, color: '#000' });
      }
      richText(ctx, bx + 51, cy + 5.5, parts);
    });
    ctx.restore();
  },
};

function toPoints(pairs: [number, number][]) {
  return pairs.map(([x, y]) => ({ x, y }));
}
function zipPoints(xs: number[], ys: number[]) {
  return xs.map((x, i) => ({ x, y: ys[i] }));
}

function panelAConfig(): any {
  const common = { showLine: true, pointRadius: 0, pointHoverRadius: 0, fill: false, tension: 0 };
  return {
    type: 'scatter',
    data: {
      datasets: [
        { ...common, label: 'a, free-running link', data: toPoints(psdFreeRunning), borderColor: '#000000', borderWidth: 1.2 },
        { ...common, label: 'b, stabilized link (w AOMa)', data: toPoints(psdStabilizedWithAom), borderColor: '#0000ff', borderWidth: 1.3 },
        { ...common, label: 'c, stabilized link (w/o AOMa)', data: toPoints(psdStabilizedWithoutAom), borderColor: '#ff0000', borderWidth: 1.3 },
        { ...common, label: 'd, theoretical prediction', data: toPoints(psdTheoretical), borderColor: '#8a8a8a', borderWidth: 1.3, borderDash: [4, 3] },
      ],
    },
    options: {
      responsive: false,
      animation: false,
      devicePixelRatio: 1,
      events: [],
      layout: { padding: { left: 93, right: 34, top: 15, bottom: 76 } },
      plugins: { legend: { display: false }, tooltip: { enabled: false } },
      scales: {
        x: { type: 'logarithmic', min: panelAFreqRange[0], max: panelAFreqRange[1], display: false },
        y: { type: 'logarithmic', min: panelAPsdRange[0], max: panelAPsdRange[1], display: false },
      },
    },
    plugins: [panelAPlugin],
  };
}

function panelBConfig(): any {
  const common = { showLine: true, tension: 0, pointBackgroundColor: '#ffffff', pointBorderWidth: 1.5, pointHoverRadius: 0, clip: 0 };
  return {
    type: 'scatter',
    data: {
      datasets: [
        { ...common, label: 'free running link', data: zipPoints(averagingTime, adevFreeRunning), borderColor: '#000000', pointBorderColor: '#000000', borderWidth: 1.6, pointStyle: 'triangle', pointRadius: 6.8 },
        { ...common, label: 'stabilized lin (w AOMa)', data: zipPoints(averagingTime, adevStabWithAom), borderColor: '#0000ff', pointBorderColor: '#0000ff', borderWidth: 1.6, pointStyle: 'circle', pointRadius: 5 },
        { ...common, label: 'stabilized lin (w/o AOMa)', data: zipPoints(averagingTime, adevStabWithoutAom), borderColor: '#ff0000', pointBorderColor: '#ff0000', borderWidth: 1.6, pointStyle: 'rect', pointRadius: 5.7 },
        { ...common, label: 'noise floor', data: zipPoints(averagingTime, adevNoiseFloor), borderColor: '#808080', pointBorderColor: '#808080', borderWidth: 2, pointStyle: 'rectRot', pointRadius: 6 },
      ],
    },
    options: {
      responsive: false,
      animation: false,
      devicePixelRatio: 1,
      events: [],
      layout: { padding: { left: 106, right: 42, top: 15, bottom: 76 } },
      plugins: { legend: { display: false }, tooltip: { enabled: false } },
      scales: {
        x: { type: 'logarithmic', min: panelBTauRange[0], max: panelBTauRange[1], display: false },
        y: { type: 'logarithmic', min: panelBAdevRange[0], max: panelBAdevRange[1], display: false },
      },
    },
    plugins: [panelBPlugin],
  };
}

export default function App() {
  const leftRef = useRef<HTMLCanvasElement>(null);
  const rightRef = useRef<HTMLCanvasElement>(null);
  useEffect(() => {
    const c1 = new Chart(leftRef.current as HTMLCanvasElement, panelAConfig());
    const c2 = new Chart(rightRef.current as HTMLCanvasElement, panelBConfig());
    return () => {
      c1.destroy();
      c2.destroy();
    };
  }, []);
  return (
    <div style={{ position: 'fixed', left: 0, top: 0, width: 1388, height: 535, background: '#ffffff', overflow: 'hidden' }}>
      <canvas ref={leftRef} width={690} height={535} style={{ position: 'absolute', left: 0, top: 0, width: 690, height: 535 }} />
      <canvas ref={rightRef} width={698} height={535} style={{ position: 'absolute', left: 690, top: 0, width: 698, height: 535 }} />
    </div>
  );
}
